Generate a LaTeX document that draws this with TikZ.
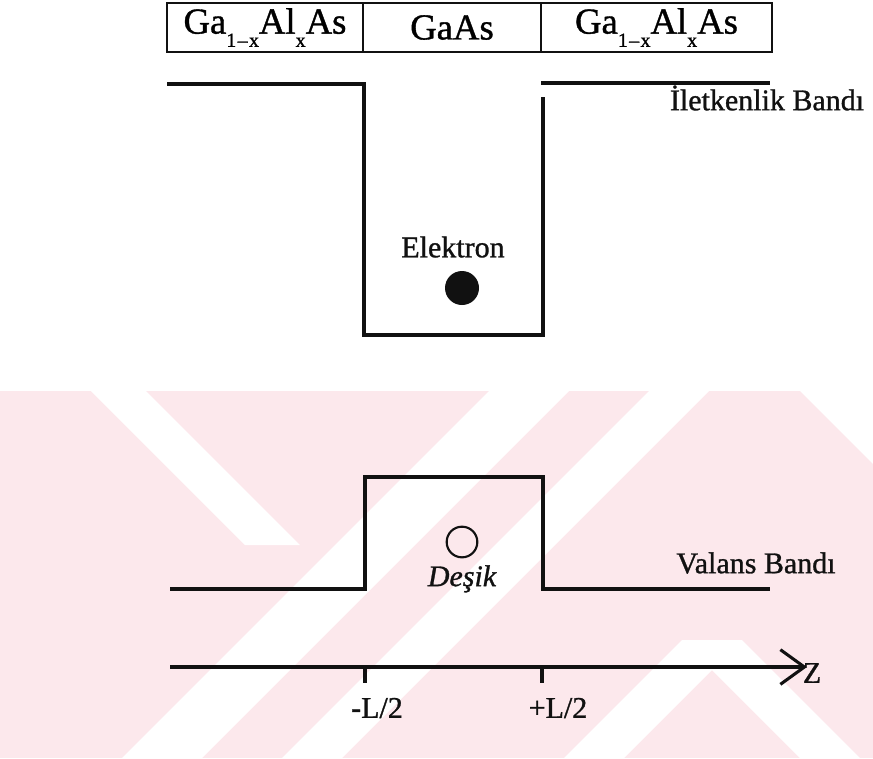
\documentclass[tikz,border=0pt]{standalone}
\usepackage{fontspec}
\setmainfont{Liberation Serif}[FakeBold=1]
\usetikzlibrary{arrows.meta,positioning}
\definecolor{ink}{HTML}{111111}
\definecolor{wmark}{HTML}{FCE8EC}
\tikzset{
  cell/.style={draw=ink, line width=1.8pt, minimum height=36.75pt, inner sep=0pt, outer sep=0pt, font=\fontsize{27.5}{29}\selectfont},
  band/.style={draw=ink, line width=2.3pt},
  lbl/.style={font=\fontsize{22.5}{24}\selectfont, inner sep=0pt, text=ink},
  axis/.style={band, -{Straight Barb[length=18pt, width=26pt, line width=2.3pt]}},
  gap/.style={fill=white},
}
\newcommand{\lowsub}[1]{\raisebox{-0.36em}{\fontsize{15}{15}\selectfont #1}}

\begin{document}
\begin{tikzpicture}[x=0.75pt, y=-0.75pt]
    \useasboundingbox (0,0) rectangle (873,758);
    % watermark
    \begin{scope}
      \clip (0,391) rectangle (873,758);
      \fill[wmark] (0,391) rectangle (873,758);
      \fill[gap] (91,391) -- (146,391) -- (300,545) -- (245,545) -- cycle;
      \fill[gap] (489,391) -- (569,391) -- (202,758) -- (122,758) -- cycle;
      \fill[gap] (649,391) -- (709,391) -- (342,758) -- (282,758) -- cycle;
      \fill[gap] (682,640) -- (742,640) -- (860,758) -- (800,758) -- cycle;
      \fill[gap] (682,640) -- (742,640) -- (624,758) -- (564,758) -- cycle;
      \fill[gap] (800,391) -- (873,391) -- (873,464) -- cycle;
    \end{scope}

    % layers
    \node[cell, minimum width=147pt] (left) at (265,27.5) {Ga\lowsub{1\kern1pt--\kern1pt x}Al\lowsub{x}As};
    \node[cell, minimum width=133.5pt, right=0pt of left] (mid) {GaAs};
    \node[cell, minimum width=173.25pt, right=0pt of mid] (right) {Ga\lowsub{1\kern1pt--\kern1pt x}Al\lowsub{x}As};

    % conduction band
    \draw[band] (167,84) -- (364,84) -- (364,335) -- (543,335) -- (543,97);
    \draw[band] (541,83) -- (770,83);
    \node[lbl] (cband) at (767,98) {İletkenlik Bandı};
    \node[lbl] (elabel) at (453,247) {Elektron};
    \node[circle, fill=ink, minimum size=25.5pt, inner sep=0pt] (electron) at (462,288) {};

    % valence band
    \draw[band] (170,589) -- (365,589) -- (365,477) -- (543,477) -- (543,589) -- (770,589);
    \node[lbl] (vband) at (756,563) {Valans Bandı};
    \node[circle, draw=ink, line width=1.6pt, minimum size=23pt, inner sep=0pt] (hole) at (462,542) {};
    \node[lbl, font=\fontsize{22.5}{24}\selectfont\itshape, below=5pt of hole] (hlabel) {Deşik};

    % z axis
    \draw[axis] (170,667) -- (807,667);
    \draw[band] (365,667) -- (365,683);
    \draw[band] (542,667) -- (542,683);
    \node[lbl] (zlabel) at (812,673) {Z};
    \node[lbl] (lminus) at (377,708) {-L/2};
    \node[lbl] (lplus) at (558,708) {+L/2};
\end{tikzpicture}
\end{document}
